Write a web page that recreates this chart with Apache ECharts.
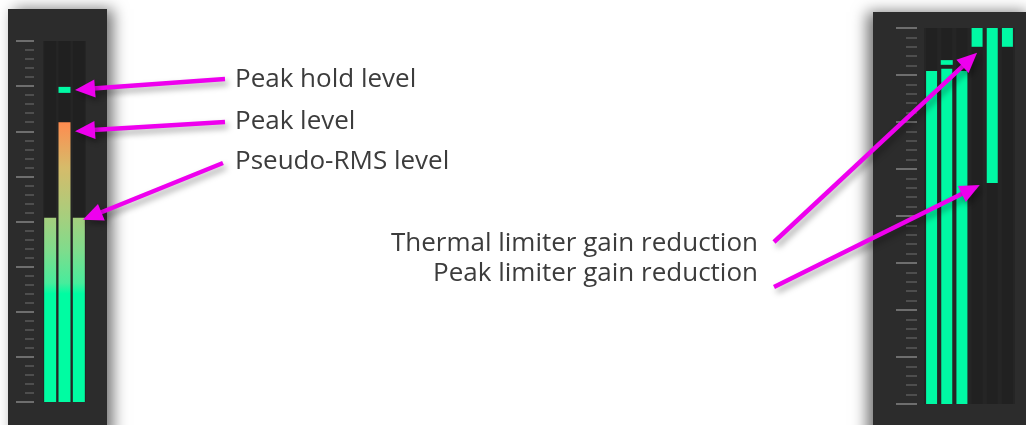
<!DOCTYPE html>
<html>
<head>
<meta charset="utf-8">
<script src="https://cdn.jsdelivr.net/npm/echarts@6/dist/echarts.min.js"></script>
<style>
  html, body { margin: 0; padding: 0; background: #fff; }
  #chart { width: 1026px; height: 425px; }
</style>
</head>
<body>
<div id="chart"></div>
<script>
// meter scale (dB above floor), same for both meters
const scaleMin = 0;
const scaleMax = 48;
const scaleStep = 6;

// left meter: RMS / peak / RMS
const leftBars = ['RMS L', 'Peak', 'RMS R'];
const leftLevels = [24.5, 37.2, 24.5];
const leftHold = [[1, 41.1, 41.9]];

// right meter: three level bars, three gain-reduction bars (drawn from the top)
const rightBars = ['L', 'C', 'R', 'Thermal', 'Peak lim', 'Thermal 2'];
const rightLevels = [42.5, 42.8, 42.5, '-', '-', '-'];
const rightHold = [[1, 43.3, 43.9]];
const gainReduction = ['-', '-', '-', 2.4, 19.8, 2.4];

// callouts
const leftNotes = ['Peak hold level', 'Peak level', 'Pseudo-RMS level'];
const rightNotes = ['Thermal limiter gain reduction', 'Peak limiter gain reduction'];

const GREEN = '#00f9a4';
const MAGENTA = '#ee00ee';
const PANEL = '#2c2c2c';
const INNER = '#252525';
const TEXT = '#3c3c3c';
const FONT = '26px "Open Sans"';

const chart = echarts.init(document.getElementById('chart'));

// gradient follows the level, not the bar, so use global pixel coords of the left grid
const levelGradient = new echarts.graphic.LinearGradient(0, 402, 0, 41, [
  { offset: 0, color: '#00fca2' },
  { offset: 0.30, color: '#00fca2' },
  { offset: 0.33, color: '#48ec9c' },
  { offset: 0.42, color: '#7fdc8c' },
  { offset: 0.51, color: '#a5cf7e' },
  { offset: 0.65, color: '#d6bb6a' },
  { offset: 0.776, color: '#ff8b4f' },
  { offset: 1, color: '#ff5a3a' }
], true);

function scaleAxis(grid, offset, major, minor) {
  return {
    type: 'value', gridIndex: grid, min: scaleMin, max: scaleMax, interval: scaleStep,
    offset: offset,
    axisLine: { show: false },
    axisLabel: { show: false },
    splitLine: { show: false },
    axisTick: { show: true, length: major, lineStyle: { color: '#6e6e6e', width: 2 } },
    minorTick: { show: true, splitNumber: 5, length: minor, lineStyle: { color: '#4e4e4e', width: 2 } }
  };
}

function holdItem(color, w) {
  return function (params, api) {
    const x = api.value(0);
    const lo = api.coord([x, api.value(1)]);
    const hi = api.coord([x, api.value(2)]);
    return {
      type: 'rect',
      shape: { x: lo[0] - w / 2, y: hi[1], width: w, height: lo[1] - hi[1] },
      style: { fill: color }
    };
  };
}

const hiddenCat = (grid, data) => ({
  type: 'category', gridIndex: grid, data: data,
  axisLine: { show: false }, axisTick: { show: false }, axisLabel: { show: false }
});

chart.setOption({
  animation: false,
  grid: [
    { left: 43, top: 41, width: 43, height: 361, show: true, backgroundColor: INNER, borderWidth: 0, z: 1 },
    { left: 924, top: 28, width: 91, height: 376, show: true, backgroundColor: INNER, borderWidth: 0, z: 1 }
  ],
  xAxis: [hiddenCat(0, leftBars), hiddenCat(1, rightBars)],
  yAxis: [
    scaleAxis(0, 9, 18, 9),
    scaleAxis(1, 7, 21, 11),
    { type: 'value', gridIndex: 1, min: scaleMin, max: scaleMax, inverse: true, show: false }
  ],
  series: [
    {
      type: 'bar', xAxisIndex: 0, yAxisIndex: 0, data: leftLevels, barWidth: 12,
      itemStyle: { color: levelGradient },
      showBackground: true, backgroundStyle: { color: 'rgba(0,0,0,0.12)' }
    },
    {
      type: 'custom', xAxisIndex: 0, yAxisIndex: 0, data: leftHold,
      encode: { x: 0, y: [1, 2] }, renderItem: holdItem(GREEN, 12)
    },
    {
      type: 'bar', xAxisIndex: 1, yAxisIndex: 1, data: rightLevels, barWidth: 11, barGap: '-100%',
      itemStyle: { color: GREEN },
      showBackground: true, backgroundStyle: { color: 'rgba(0,0,0,0.1)' }
    },
    {
      type: 'bar', xAxisIndex: 1, yAxisIndex: 2, data: gainReduction, barWidth: 11, barGap: '-100%',
      itemStyle: { color: GREEN }
    },
    {
      type: 'custom', xAxisIndex: 1, yAxisIndex: 1, data: rightHold,
      encode: { x: 0, y: [1, 2] }, renderItem: holdItem(GREEN, 12)
    }
  ]
});

// arrows: tails sit next to the labels, tips are taken from the data through the axes
function pt(xi, yi, cat, val) {
  return chart.convertToPixel({ xAxisIndex: xi, yAxisIndex: yi }, [cat, val]);
}

function arrow(tail, tip) {
  const dx = tip[0] - tail[0], dy = tip[1] - tail[1];
  const len = Math.sqrt(dx * dx + dy * dy);
  const ux = dx / len, uy = dy / len;
  const head = 20, half = 9;
  const bx = tip[0] - ux * head, by = tip[1] - uy * head;
  const shadow = { shadowBlur: 6, shadowOffsetX: 3, shadowOffsetY: 4, shadowColor: 'rgba(0,0,0,0.35)' };
  return [
    {
      type: 'line', z: 100,
      shape: { x1: tail[0], y1: tail[1], x2: bx + ux * 2, y2: by + uy * 2 },
      style: Object.assign({ stroke: MAGENTA, lineWidth: 4.5 }, shadow)
    },
    {
      type: 'polygon', z: 100,
      shape: { points: [tip, [bx - uy * half, by + ux * half], [bx + uy * half, by - ux * half]] },
      style: Object.assign({ fill: MAGENTA }, shadow)
    }
  ];
}

const pHold = pt(0, 0, leftHold[0][0], (leftHold[0][1] + leftHold[0][2]) / 2);
const pPeak = pt(0, 0, 1, leftLevels[1]);
const pRms = pt(0, 0, 2, leftLevels[2]);
const pTherm = pt(1, 2, 3, gainReduction[3]);
const pLim = pt(1, 2, 4, gainReduction[4]);

const elements = [
  { type: 'rect', z: -5, shape: { x: 8, y: 9, width: 99, height: 430 },
    style: { fill: PANEL, shadowBlur: 14, shadowOffsetX: 6, shadowColor: 'rgba(0,0,0,0.55)' } },
  { type: 'rect', z: -5, shape: { x: 873, y: 12, width: 160, height: 430 },
    style: { fill: PANEL, shadowBlur: 14, shadowOffsetX: -6, shadowColor: 'rgba(0,0,0,0.55)' } }
];

const leftY = [80, 122, 162];
leftNotes.forEach((t, i) => {
  elements.push({ type: 'text', z: 100, x: 235, y: leftY[i],
    style: { text: t, font: FONT, fill: TEXT, align: 'left', verticalAlign: 'middle' } });
});
const rightY = [244, 274];
rightNotes.forEach((t, i) => {
  elements.push({ type: 'text', z: 100, x: 758, y: rightY[i],
    style: { text: t, font: FONT, fill: TEXT, align: 'right', verticalAlign: 'middle' } });
});

elements.push(...arrow([225, 79], [pHold[0] + 10.5, pHold[1]]));
elements.push(...arrow([225, 122], [pPeak[0] + 10.5, pPeak[1] + 9]));
elements.push(...arrow([223, 163], [pRms[0] + 4, pRms[1] + 2]));
elements.push(...arrow([774, 242], [pTherm[0], pTherm[1] + 6]));
elements.push(...arrow([774, 287], [pLim[0] - 12.5, pLim[1] + 2]));

chart.setOption({ graphic: { elements: elements } });
</script>
</body>
</html>
